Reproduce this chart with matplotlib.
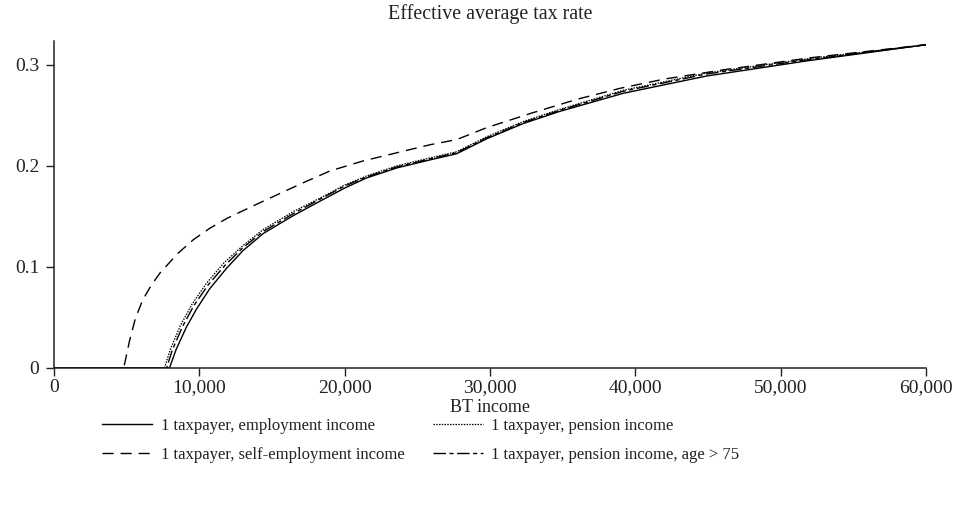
import matplotlib
matplotlib.use("Agg")
import matplotlib.pyplot as plt
from matplotlib.ticker import FuncFormatter

plt.rcParams["font.family"] = ["Liberation Serif", "DejaVu Serif"]
plt.rcParams["font.size"] = 12

INK = "#222222"

# Effective average tax rate by before-tax income
emp_income = [0, 7950, 8400, 9100, 9800, 10700, 11900, 13000, 14400, 16500, 18300,
              20000, 21500, 23600, 25900, 27700, 29800, 32300, 34800, 39200, 44900,
              51800, 60000]
emp_rate = [0, 0, 0.018, 0.040, 0.058, 0.078, 0.099, 0.116, 0.133, 0.151, 0.165,
            0.178, 0.188, 0.198, 0.206, 0.212, 0.227, 0.242, 0.254, 0.272, 0.289,
            0.304, 0.320]

self_income = [0, 4800, 5200, 5600, 6100, 6700, 7300, 8500, 9600, 10700, 11900,
               13500, 15300, 17100, 19000, 21300, 23600, 25900, 27700, 29800, 32800,
               36000, 39000, 42000, 46000, 52000, 60000]
self_rate = [0, 0, 0.027, 0.049, 0.067, 0.082, 0.094, 0.113, 0.127, 0.138, 0.148,
             0.159, 0.171, 0.183, 0.195, 0.205, 0.213, 0.221, 0.226, 0.238, 0.252,
             0.266, 0.277, 0.286, 0.295, 0.307, 0.320]

pen_income = [0, 7600, 8000, 8700, 9500, 10500, 11700, 13000, 14400, 16500, 18300,
              20000, 21500, 23600, 25900, 27700, 29800, 32300, 34800, 39200, 44900,
              51800, 60000]
pen_rate = [0, 0, 0.018, 0.042, 0.063, 0.084, 0.104, 0.121, 0.137, 0.155, 0.168,
            0.181, 0.190, 0.200, 0.208, 0.214, 0.229, 0.244, 0.256, 0.275, 0.292,
            0.306, 0.320]

old_income = [0, 7750, 8150, 8850, 9600, 10600, 11800, 13000, 14400, 16500, 18300,
              20000, 21500, 23600, 25900, 27700, 29800, 32300, 34800, 39200, 44900,
              51800, 60000]
old_rate = [0, 0, 0.018, 0.041, 0.061, 0.082, 0.102, 0.119, 0.135, 0.153, 0.167,
            0.180, 0.189, 0.199, 0.207, 0.213, 0.228, 0.243, 0.255, 0.274, 0.291,
            0.305, 0.320]

fig = plt.figure(figsize=(9.58, 5.12), dpi=100)
ax = fig.add_axes([0.0564, 0.2818, 0.9102, 0.6387])

ln_emp, = ax.plot(emp_income, emp_rate, color="black", lw=1.0,
                  label="1 taxpayer, employment income")
ln_self, = ax.plot(self_income, self_rate, color="black", lw=1.0,
                   dashes=(8, 5), label="1 taxpayer, self-employment income")
ln_pen, = ax.plot(pen_income, pen_rate, color="black", lw=0.9,
                  dashes=(1.2, 1.0), label="1 taxpayer, pension income")
ln_old, = ax.plot(old_income, old_rate, color="black", lw=1.0,
                  dashes=(9, 2.5, 3, 2.5), label="1 taxpayer, pension income, age > 75")

ax.set_xlim(0, 60000)
ax.set_ylim(0, 0.324)
ax.set_xticks([0, 10000, 20000, 30000, 40000, 50000, 60000])
ax.set_yticks([0, 0.1, 0.2, 0.3])
ax.xaxis.set_major_formatter(FuncFormatter(lambda v, p: f"{int(v):,}"))
ax.yaxis.set_major_formatter(FuncFormatter(lambda v, p: "0" if v == 0 else f"{v:.1f}"))

for side in ("top", "right"):
    ax.spines[side].set_visible(False)
for side in ("left", "bottom"):
    ax.spines[side].set_color(INK)
    ax.spines[side].set_linewidth(1.1)
ax.tick_params(direction="out", length=5.5, width=1.0, color=INK,
               labelcolor=INK, labelsize=14)
ax.tick_params(axis="x", pad=2.5)
ax.tick_params(axis="y", pad=5)

ax.set_xlabel("BT income", color=INK, fontsize=13, labelpad=2)
ax.set_title("Effective average tax rate", color=INK, pad=15.5)

fig.legend(handles=[ln_emp, ln_self, ln_pen, ln_old], ncol=2,
           loc="upper left", bbox_to_anchor=(0.091, 0.213), frameon=False,
           handlelength=3.0, handletextpad=0.5, columnspacing=1.7,
           labelspacing=0.8, labelcolor=INK)

fig.savefig("out.png", dpi=100)
